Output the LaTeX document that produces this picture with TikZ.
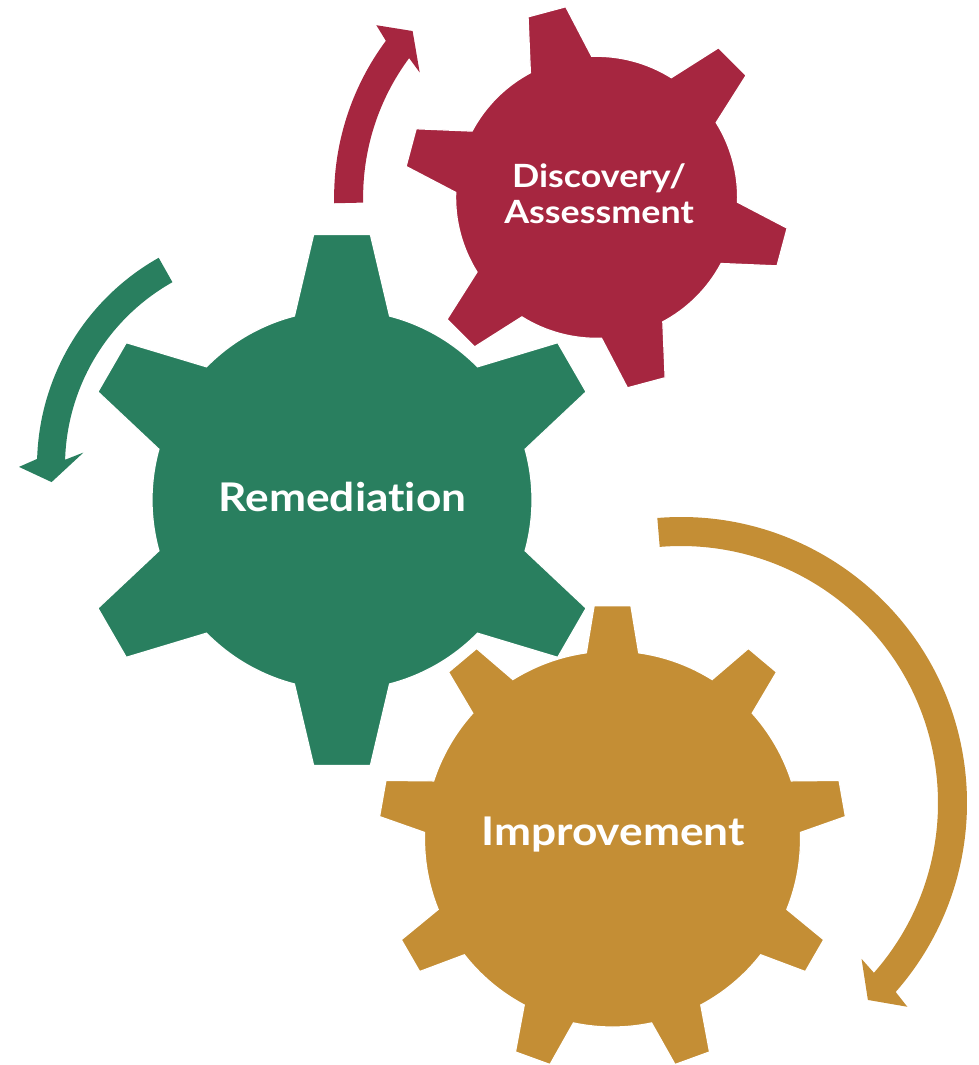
\documentclass[tikz,border=0pt]{standalone}
\usepackage{fontspec}
\setmainfont{Lato}[FakeStretch=1.12, Ligatures=NoCommon]
\definecolor{gearred}{RGB}{166,38,64}
\definecolor{geargreen}{RGB}{41,127,95}
\definecolor{geargold}{RGB}{196,142,53}

\begin{document}
\begin{tikzpicture}[x=1pt, y=1pt,
    gear/.style={draw=white, line width=1.2pt},
    label/.style={text=white, font=\bfseries\fontsize{39.5}{44}\selectfont, anchor=base}]
    \useasboundingbox (0, 0) rectangle (979, -1065);

    % Arrow round Discovery
    \fill[gearred, shift={(596.6, -197.3)}] (181.3:262.5) arc[start angle=181.3, end angle=143.4, radius=262.5]
        -- (142:279.5) -- (137.9:248) -- (144.8:216.5) -- (143.4:233.5)
        arc[start angle=143.4, end angle=181.3, radius=233.5] -- cycle;

    % Arrow round Remediation
    \fill[geargreen, shift={(276, -466)}] (119.4:239) arc[start angle=119.4, end angle=178.3, radius=239]
        -- (180.2:257) -- (184.1:225) -- (176:193) -- (178.3:211)
        arc[start angle=178.3, end angle=119.4, radius=211] -- cycle;

    % Arrow round Improvement
    \fill[geargold, shift={(681, -803)}] (94.75:286) arc[start angle=94.75, end angle=-41.35, radius=286]
        -- (-42:304.5) -- (-46.5:271.5) -- (-40.8:238.5) -- (-41.35:257)
        arc[start angle=-41.35, end angle=94.75, radius=257] -- cycle;

    % Improvement gear
    \filldraw[gear, fill=geargold, shift={(612.5, -839)}] (82:188)
        \foreach \a in {90, 130, ..., 410} {
            -- ({\a-4.5}:234) -- ({\a+4.5}:234) -- ({\a+8}:188)
            arc[start angle=\a+8, end angle=\a+32, radius=188]
        } -- cycle;
    \node[label] (imp) at (613, -845) {Improvement};

    % Remediation gear
    \filldraw[gear, fill=geargreen, shift={(342, -500)}] (75.5:190)
        \foreach \a in {90, 150, ..., 390} {
            -- ({\a-6.1}:267) -- ({\a+6.1}:267) -- ({\a+14.5}:190)
            arc[start angle=\a+14.5, end angle=\a+45.5, radius=190]
        } -- cycle;
    \node[label] (rem) at (342.5, -511.7) {Remediation};

    % Discovery gear
    \filldraw[gear, fill=gearred, shift={(596.6, -197.3)}] (-28:141)
        \foreach \a in {-15, 45, ..., 285} {
            -- ({\a-5.8}:193) -- ({\a+5.8}:193) -- ({\a+13}:141)
            arc[start angle=\a+13, end angle=\a+47, radius=141]
        } -- cycle;
    \node[label, align=center, font=\bfseries\fontsize{32}{36}\selectfont] (dis) at (599, -223.5) {Discovery/\\Assessment};
\end{tikzpicture}
\end{document}
